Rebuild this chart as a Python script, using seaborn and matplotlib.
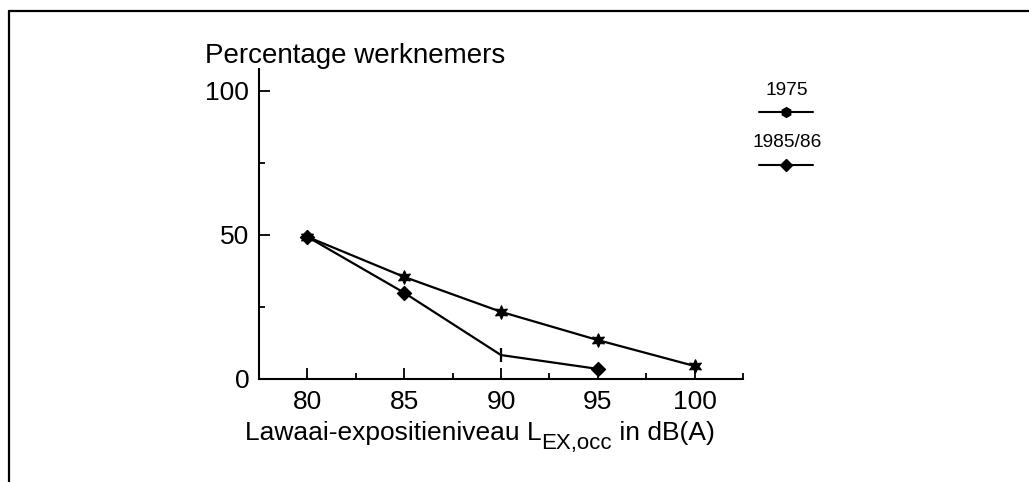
import matplotlib
matplotlib.use("Agg")
import matplotlib.pyplot as plt
from matplotlib.lines import Line2D
import seaborn as sns
import pandas as pd

# ---- data ----
levels = [80, 85, 90, 95, 100]
pct_1975 = [49.3, 35.4, 23.3, 13.5, 4.5]
levels_8586 = [80, 85, 90, 95]
pct_8586 = [49.3, 29.9, 8.3, 3.5]
marker_8586 = ["D", "D", "|", "D"]
series_names = ["1975", "1985/86"]
xticks = [80, 85, 90, 95, 100]
yticks = [0, 50, 100]
xlabel_parts = ["Lawaai-expositieniveau L", "EX,occ", " in dB(A)"]
ylabel_text = "Percentage werknemers"

sns.set_theme(style="white")
plt.rcParams["font.family"] = ["Liberation Sans", "DejaVu Sans"]
plt.rcParams["text.color"] = "black"
plt.rcParams["xtick.color"] = "black"
plt.rcParams["ytick.color"] = "black"

W, H = 1029, 482
fig = plt.figure(figsize=(W / 100, H / 100), dpi=100)
ax = fig.add_axes([259 / W, (H - 379) / H, 484 / W, 310 / H])

df75 = pd.DataFrame({"x": levels, "y": pct_1975})
df86 = pd.DataFrame({"x": levels_8586, "y": pct_8586, "m": marker_8586})

sns.lineplot(data=df75, x="x", y="y", ax=ax, color="black", lw=1.6,
             marker=(6, 1, 0), markersize=10, markeredgecolor="black",
             markerfacecolor="black")
sns.lineplot(data=df86, x="x", y="y", ax=ax, color="black", lw=1.6)
d_fill = df86[df86["m"] == "D"]
d_line = df86[df86["m"] == "|"]
sns.scatterplot(data=d_fill, x="x", y="y", marker="D", ax=ax, color="black",
                s=50, linewidth=1, edgecolor="black", legend=False)
sns.scatterplot(data=d_line, x="x", y="y", marker="|", ax=ax, color="black",
                s=90, linewidth=1.6, legend=False)

ax.set_xlim(77.5, 102.5)
ax.set_ylim(0, 107.5)
ax.set_xticks(xticks)
ax.set_xticks([82.5, 87.5, 92.5, 97.5, 102.5], minor=True)
ax.set_yticks(yticks)
ax.set_yticks([25, 75], minor=True)
ax.tick_params(axis="both", which="major", direction="in", length=8,
               width=1.3, color="black", labelcolor="black", labelsize=19,
               left=True, bottom=True)
ax.tick_params(axis="both", which="minor", direction="in", length=4,
               width=1.3, color="black", left=True, bottom=True)
ax.tick_params(axis="y", pad=7)
ax.tick_params(axis="x", pad=8)
for s in ["top", "right"]:
    ax.spines[s].set_visible(False)
for s in ["left", "bottom"]:
    ax.spines[s].set_color("black")
    ax.spines[s].set_linewidth(1.5)
ax.set_xlabel("")
ax.set_ylabel("")
ax.set_facecolor("white")

fig.text(205 / W, 1 - 63 / H, ylabel_text, fontsize=20,
         ha="left", va="baseline", color="black")

# x label built from pieces (with subscript)
main_fs, sub_fs = 19, 16
base_y = 1 - 440 / H
sub_y = 1 - 449 / H
t1 = fig.text(0, base_y, xlabel_parts[0], fontsize=main_fs, va="baseline")
t2 = fig.text(0, sub_y, xlabel_parts[1], fontsize=sub_fs, va="baseline")
t3 = fig.text(0, base_y, xlabel_parts[2], fontsize=main_fs, va="baseline")
fig.canvas.draw()
r = fig.canvas.get_renderer()
w1 = t1.get_window_extent(r).width
w2 = t2.get_window_extent(r).width
w3 = t3.get_window_extent(r).width
total = w1 + w2 + w3
x0 = 480 - total / 2
t1.set_x(x0 / W)
t2.set_x((x0 + w1) / W)
t3.set_x((x0 + w1 + w2) / W)

# legend (manual)
fig.text(787 / W, 1 - 95 / H, series_names[0], fontsize=13.8,
         ha="center", va="baseline")
fig.add_artist(Line2D([759 / W, 813 / W], [1 - 112 / H] * 2,
                      color="black", lw=1.5))
fig.add_artist(Line2D([786 / W], [1 - 112 / H], color="black",
                      marker="h", markersize=7, lw=0))
fig.text(787 / W, 1 - 147 / H, series_names[1], fontsize=13.8,
         ha="center", va="baseline")
fig.add_artist(Line2D([759 / W, 813 / W], [1 - 165 / H] * 2,
                      color="black", lw=1.5))
fig.add_artist(Line2D([786 / W], [1 - 165 / H], color="black",
                      marker="D", markersize=6, lw=0))

# page frame (top and left lines)
fig.add_artist(Line2D([8.5 / W, 1.0], [1 - 11 / H] * 2, color="black", lw=1.6))
fig.add_artist(Line2D([8.5 / W] * 2, [0, 1 - 11 / H], color="black", lw=1.6))

fig.savefig("out.png", dpi=100, facecolor="white")
